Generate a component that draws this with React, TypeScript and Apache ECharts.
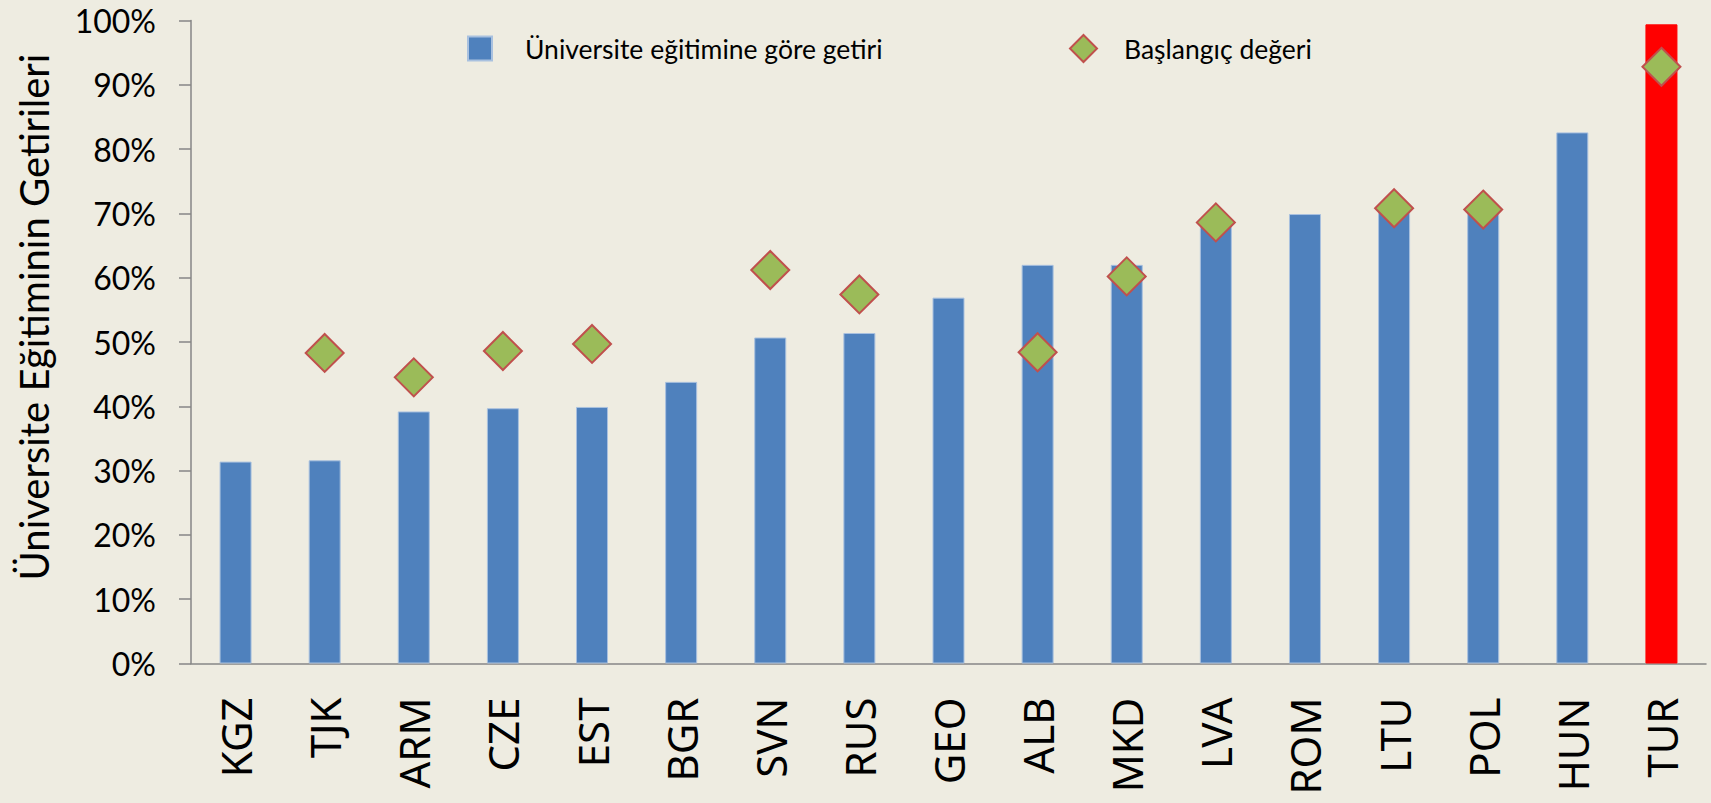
import React, { useEffect, useRef } from "react";
import * as echarts from "echarts";

const categories = ["KGZ", "TJK", "ARM", "CZE", "EST", "BGR", "SVN", "RUS", "GEO", "ALB", "MKD", "LVA", "ROM", "LTU", "POL", "HUN", "TUR"];
const returnValues = [31.4, 31.6, 39.2, 39.7, 39.9, 43.8, 50.7, 51.4, 56.9, 62.0, 62.0, 68.5, 69.9, 70.5, 70.3, 82.6, 99.4];
const startValues: (number | null)[] = [null, 48.3, 44.5, 48.6, 49.7, null, 61.2, 57.4, null, 48.4, 60.2, 68.6, null, 70.8, 70.6, null, 92.8];
const highlightCategory = "TUR";
const yTicks = { min: 0, max: 100, interval: 10 };

const barName = "Üniversite eğitimine göre getiri";
const scatterName = "Başlangıç değeri";
const yAxisTitle = "Üniversite Eğitiminin Getirileri";

export default function App() {
  const ref = useRef<HTMLDivElement>(null);
  useEffect(() => {
    if (!ref.current) return;
    const chart = echarts.init(ref.current, undefined, { renderer: "svg" });
    const barData = returnValues.map((v, i) =>
      categories[i] === highlightCategory
        ? { value: v, itemStyle: { color: "#FF0000", borderColor: "#FF0000" } }
        : v
    );
    chart.setOption({
      animation: false,
      backgroundColor: "#EEECE1",
      grid: { left: 191, right: 5, top: 20.5, bottom: 139.5, containLabel: false },
      legend: [
        {
          data: [barName],
          left: 467,
          top: 35,
          padding: 0,
          itemWidth: 24,
          itemHeight: 24,
          icon: "rect",
          textStyle: { fontFamily: "Lato", fontSize: 26.5, color: "#000", padding: [0, 0, 0, 28] },
        },
        {
          data: [scatterName],
          left: 1069,
          top: 34,
          padding: 0,
          itemWidth: 27,
          itemHeight: 27,
          textStyle: { fontFamily: "Lato", fontSize: 26.5, color: "#000", padding: [0, 0, 0, 22] },
        },
      ],
      xAxis: {
        type: "category",
        data: categories,
        axisLine: { lineStyle: { color: "#868686", width: 1.5 } },
        axisTick: { show: false },
        axisLabel: {
          rotate: 90,
          margin: 34,
          fontFamily: "Noto Sans",
          fontWeight: "normal",
          fontSize: 42,
          color: "#000",
          interval: 0,
        },
        splitLine: { show: false },
      },
      yAxis: {
        type: "value",
        min: yTicks.min,
        max: yTicks.max,
        interval: yTicks.interval,
        name: yAxisTitle,
        nameLocation: "middle",
        nameRotate: 90,
        nameGap: 137,
        nameTextStyle: { fontFamily: "Lato", fontSize: 40, color: "#000", padding: [0, 0, 0, 50] },
        axisLine: { show: true, lineStyle: { color: "#868686", width: 1.5 } },
        axisTick: { show: true, inside: false, length: 12, lineStyle: { color: "#868686", width: 1.5 } },
        axisLabel: {
          formatter: "{value}%",
          margin: 35,
          fontFamily: "Lato",
          fontSize: 32,
          color: "#000",
        },
        splitLine: { show: false },
      },
      series: [
        {
          name: barName,
          type: "bar",
          data: barData,
          barWidth: 32,
          itemStyle: { color: "#4F81BD", borderColor: "#A9C1DF", borderWidth: 1 },
        },
        {
          name: scatterName,
          type: "scatter",
          data: startValues,
          symbol: "diamond",
          symbolSize: 38,
          itemStyle: { color: "#9BBB59", borderColor: "#C0504D", borderWidth: 2, opacity: 1 },
          z: 5,
        },
      ],
    });
    return () => chart.dispose();
  }, []);
  return (
    <div
      ref={ref}
      style={{ position: "fixed", left: 0, top: 0, width: 1711, height: 803 }}
    />
  );
}
